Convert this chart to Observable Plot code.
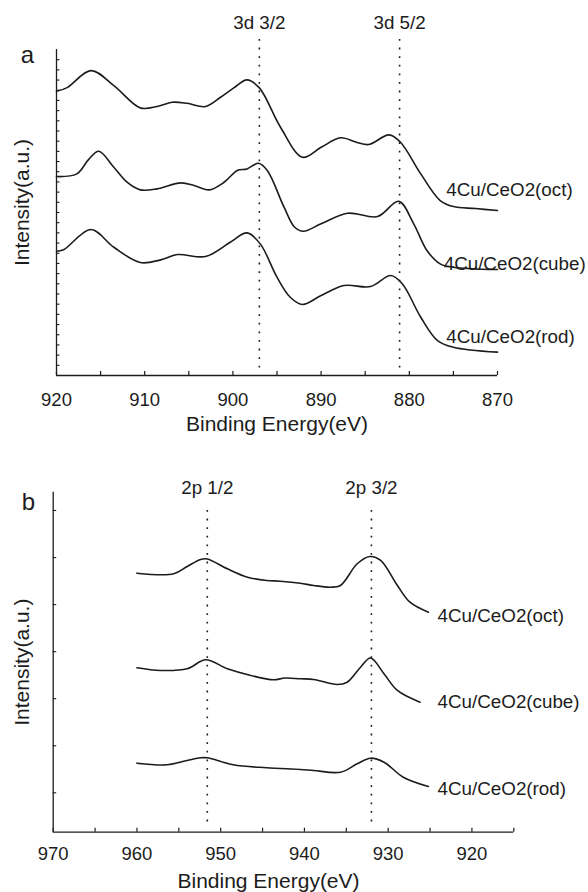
<!DOCTYPE html>
<html><head><meta charset="utf-8">
<script src="https://cdn.jsdelivr.net/npm/d3@7"></script>
<script src="https://cdn.jsdelivr.net/npm/@observablehq/plot@0.6"></script>
<style>
body{margin:0;background:#fff;}
#chart{position:relative;width:588px;height:892px;font-family:"Liberation Sans",Arial,sans-serif;}
#chart svg{position:absolute;left:0;overflow:visible;}
</style></head><body><div id="chart"></div>
<script>
// ---------- data ----------
const seriesNames = ["4Cu/CeO2(oct)", "4Cu/CeO2(cube)", "4Cu/CeO2(rod)"];

// Panel a: Ce 3d (binding energy eV, intensity a.u.)
const ceE_oct  = [920, 918.8, 916.1, 913.5, 910.5, 908.6, 906.9, 905.2, 903.1, 901.4, 899.9, 898.4, 897.0, 894.6, 892.1, 890.0, 887.8, 886.0, 884.6, 882.3, 881.0, 878.7, 876.5, 875.0, 872.5, 870];
const ceI_oct  = [27.90, 28.26, 29.93, 28.46, 26.27, 26.40, 26.82, 26.72, 26.40, 27.31, 28.23, 29.02, 28.23, 24.37, 21.42, 22.40, 23.33, 22.90, 22.67, 23.62, 22.90, 19.79, 17.17, 16.58, 16.39, 16.19];
const ceE_cube = [920, 917.7, 916.3, 915.2, 913.5, 912.0, 910.5, 908.6, 905.9, 904.4, 902.7, 901.0, 899.5, 898.4, 897.1, 896.1, 894.2, 893.0, 892.0, 890.0, 887.0, 883.6, 881.2, 879.5, 878.0, 876.5, 875.0, 870];
const ceI_cube = [19.53, 19.79, 21.27, 22.01, 20.44, 18.97, 18.22, 18.32, 18.91, 18.65, 18.22, 18.97, 20.12, 20.28, 20.83, 20.12, 16.52, 14.55, 14.16, 14.89, 15.93, 15.60, 17.10, 14.89, 12.27, 10.96, 10.63, 10.40];
const ceE_rod  = [920, 919.2, 916.1, 913.5, 910.5, 908.2, 906.3, 903.1, 900.3, 898.4, 896.9, 895.0, 893.5, 892.1, 890.0, 887.4, 884.4, 882.1, 880.8, 878.7, 876.8, 875.0, 870];
const ceI_rod  = [12.20, 12.34, 14.33, 12.59, 11.09, 11.35, 11.87, 11.68, 13.08, 14.00, 12.92, 9.65, 7.68, 6.97, 7.85, 8.83, 8.73, 9.81, 9.00, 5.72, 3.43, 2.78, 2.29];

// Panel b: Cu 2p
const cuE_oct  = [960, 955.6, 954, 952.4, 951.6, 949.2, 946.8, 944.5, 942.9, 940.5, 938.9, 936.9, 935.7, 933.7, 932.2, 930.9, 928.9, 927.4, 925.2];
const cuI_oct  = [5.668, 5.655, 5.810, 5.959, 5.970, 5.761, 5.583, 5.513, 5.498, 5.455, 5.406, 5.370, 5.406, 5.868, 6.023, 5.938, 5.406, 5.051, 4.839];
const cuE_cube = [960, 957.2, 954, 951.8, 949.2, 946.4, 943.7, 942.3, 940.5, 938.9, 936.1, 934.9, 933.3, 932.1, 930.5, 928.9, 926.2];
const cuI_cube = [3.657, 3.600, 3.636, 3.827, 3.636, 3.494, 3.402, 3.440, 3.423, 3.410, 3.302, 3.351, 3.670, 3.865, 3.530, 3.175, 2.926];
const cuE_rod  = [960, 956.4, 954, 952.4, 951.6, 948.5, 944.5, 940.5, 938.9, 935.7, 933.7, 932.1, 930.5, 928.2, 925.2];
const cuI_rod  = [1.630, 1.596, 1.687, 1.744, 1.744, 1.596, 1.532, 1.496, 1.474, 1.438, 1.617, 1.736, 1.651, 1.332, 1.134];

// peak markers
const peaksA = [897.0, 881.1];
const peakLabelsA = ["3d 3/2", "3d 5/2"];
const peaksB = [951.6, 932.0];
const peakLabelsB = ["2p 1/2", "2p 3/2"];

// series label anchors (eV, intensity)
const labelEA = [875.8, 876.1, 875.8];
const labelIA = [18.25, 10.99, 3.76];
const labelEB = [924.1, 924.1, 924.1];
const labelIB = [4.769, 2.926, 1.092];

// axis ticks
const xTickLabelsA = [920, 910, 900, 890, 880, 870];
const xMinorA = [920, 915, 910, 905, 900, 895, 890, 885, 880, 875, 870];
const yTicksA = [1,2,3,4,5,6,7,8,9,10,11,12,13,14,15,16,17,18,19,20,21,22,23,24,25,26,27,28,29,30,31];
const xTickLabelsB = [970, 960, 950, 940, 930, 920];
const xMinorB = [970, 965, 960, 955, 950, 945, 940, 935, 930, 925, 920, 915];
const yTicksB = [1,2,3,4,5,6,7];

// ---------- build rows ----------
function rows(Es, Is) {
  const out = [];
  Es.forEach((E, s) => E.forEach((e, i) => out.push({series: seriesNames[s], energy: e, intensity: Is[s][i]})));
  return out;
}
const rowsA = rows([ceE_oct, ceE_cube, ceE_rod], [ceI_oct, ceI_cube, ceI_rod]);
const rowsB = rows([cuE_oct, cuE_cube, cuE_rod], [cuI_oct, cuI_cube, cuI_rod]);

const INK = "#1c1c1c";
const FONT = "Liberation Sans, Arial, Helvetica, sans-serif";
const TICKFS = 18.5, LABELFS = 18.8, TITLEFS = 21;

function panel(o) {
  return Plot.plot({
    width: 588, height: o.height,
    marginLeft: o.ml, marginRight: o.mr, marginTop: o.mt, marginBottom: o.mb,
    style: {fontFamily: FONT, background: "transparent", color: INK, overflow: "visible"},
    x: {domain: o.xDomain},
    y: {domain: o.yDomain},
    marks: [
      // axis lines
      Plot.ruleY([o.yDomain[0]], {stroke: INK, strokeWidth: 1.3}),
      Plot.ruleX([o.xDomain[0]], {stroke: INK, strokeWidth: 1.3}),
      // inward ticks
      Plot.axisX(o.xMinor, {tickSize: 4, dy: -4, tickFormat: () => "", stroke: INK, strokeWidth: 1.2, label: null}),
      Plot.axisX(o.xLabels, {tickSize: 0, tickPadding: o.tickPad, fontSize: TICKFS, fill: INK, label: null}),
      Plot.axisY(o.yTicks, {tickSize: 3.5, dx: 3.5, tickFormat: () => "", stroke: INK, strokeWidth: 1.1, label: null}),
      // peak markers
      Plot.ruleX(o.peaks, {stroke: INK, strokeWidth: 1.6, strokeDasharray: "1.8,6.8", insetTop: o.ruleTop, insetBottom: o.ruleBottom}),
      Plot.text(o.peakLabels, {x: (d, i) => o.peaks[i], text: d => d, frameAnchor: "top", dy: o.peakDy, lineAnchor: "bottom", fontSize: LABELFS, fill: INK}),
      // spectra
      Plot.line(o.rows, {x: "energy", y: "intensity", z: "series", curve: "catmull-rom", stroke: INK, strokeWidth: 1.6}),
      // series labels
      Plot.text(seriesNames, {x: (d, i) => o.labelE[i], y: (d, i) => o.labelI[i], text: d => d, textAnchor: "start", fontSize: LABELFS, fill: INK}),
      // axis titles
      Plot.text(["Binding Energy(eV)"], {frameAnchor: "bottom", dy: o.xTitleDy, dx: o.xTitleDx, textAnchor: "middle", lineAnchor: "bottom", fontSize: TITLEFS, fill: INK}),
      Plot.text(["Intensity(a.u.)"], {frameAnchor: "left", rotate: -90, dx: o.yTitleDx, dy: o.yTitleDy, textAnchor: "middle", lineAnchor: "middle", fontSize: TITLEFS, fill: INK}),
      // panel letter
      Plot.text([o.letter], {frameAnchor: "top-left", dx: o.letterDx, dy: o.letterDy, textAnchor: "middle", lineAnchor: "bottom", fontSize: 24, fill: INK})
    ]
  });
}

const plotA = panel({
  height: 445, ml: 56, mr: 91, mt: 49, mb: 70,
  xDomain: [920, 870], yDomain: [0, 32],
  xMinor: xMinorA, xLabels: xTickLabelsA, yTicks: yTicksA, tickPad: 17.5,
  peaks: peaksA, peakLabels: peakLabelsA, ruleTop: -10, ruleBottom: 7, peakDy: -20.3,
  rows: rowsA, labelE: labelEA, labelI: labelIA,
  xTitleDy: 55, xTitleDx: 0, yTitleDx: -34, yTitleDy: -10,
  letter: "a", letterDx: -29, letterDy: 13.7
});
const plotB = panel({
  height: 447, ml: 52.7, mr: 74.7, mt: 46.7, mb: 60.3,
  xDomain: [970, 915], yDomain: [0.163, 7.389],
  xMinor: xMinorB, xLabels: xTickLabelsB, yTicks: yTicksB, tickPad: 15,
  peaks: peaksB, peakLabels: peakLabelsB, ruleTop: 18.3, ruleBottom: 9.7, peakDy: 1.5,
  rows: rowsB, labelE: labelEB, labelI: labelIB,
  xTitleDy: 55.3, xTitleDx: -15, yTitleDx: -30.7, yTitleDy: 0,
  letter: "b", letterDx: -24.7, letterDy: 17.6
});
plotA.style.top = "0px";
plotB.style.top = "445px";
const chart = document.getElementById("chart");
chart.appendChild(plotA);
chart.appendChild(plotB);
</script>
</body></html>
